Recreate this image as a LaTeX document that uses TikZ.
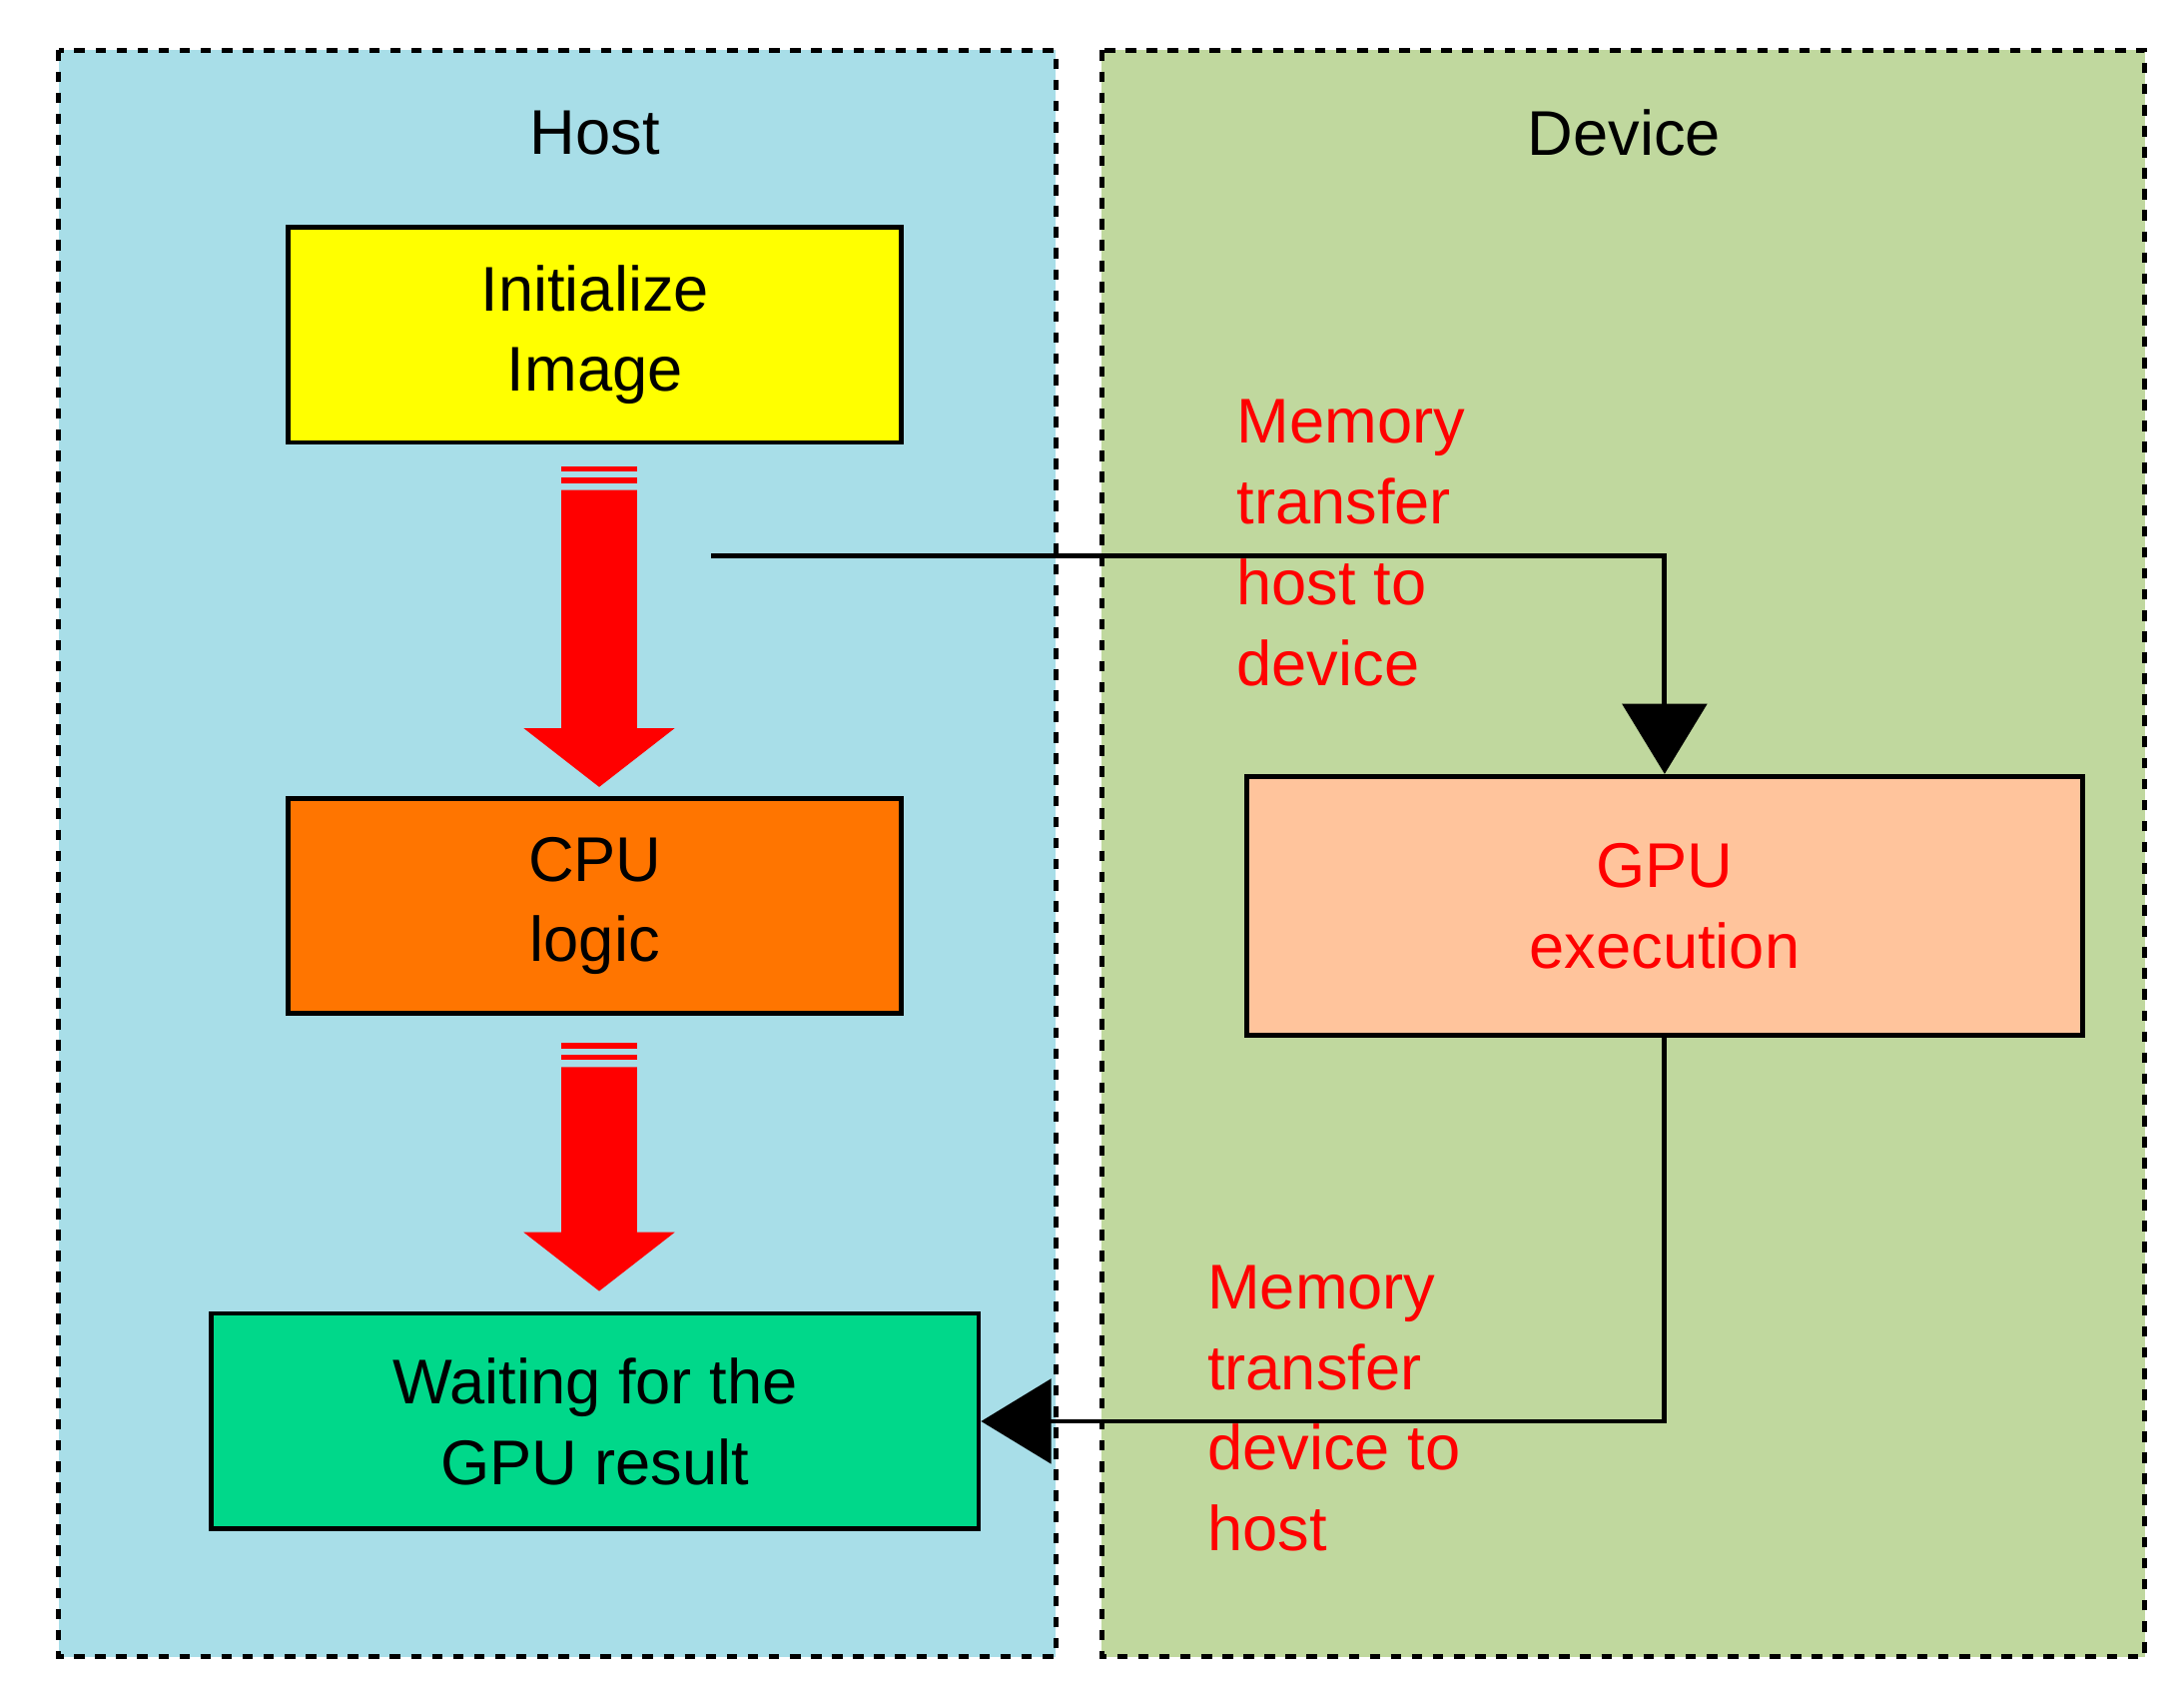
\documentclass[tikz,border=0pt]{standalone}
\usepackage{fontspec}
\setmainfont{Liberation Sans}
\usetikzlibrary{positioning,arrows.meta}
\definecolor{hostblue}{HTML}{A8DEE8}
\definecolor{devgreen}{HTML}{C0D89E}
\definecolor{inityellow}{HTML}{FFFF00}
\definecolor{cpuorange}{HTML}{FF7500}
\definecolor{waitgreen}{HTML}{00D88A}
\definecolor{gpupeach}{HTML}{FFC49C}
\tikzset{
    panel/.style={draw, dashed, line width=1.4pt},
    stage/.style={draw, line width=1.4pt, align=center, font=\fontsize{18}{23}\selectfont},
    memo/.style={text=red, align=left, anchor=north west, font=\fontsize{18}{23}\selectfont, inner sep=0pt},
    flow/.style={line width=1.4pt, -{Triangle[length=20pt,width=24pt]}}
}
\begin{document}
\begin{tikzpicture}[x=0.01402cm, y=-0.01402cm]
    \useasboundingbox (0,0) rectangle (1560,1203);

    % Panels
    \filldraw[panel, fill=hostblue] (42,36) rectangle (754,1183);
    \filldraw[panel, fill=devgreen] (787,36) rectangle (1532,1183);
    \node[font=\fontsize{18}{23}\selectfont] (host) at (425,95) {Host};
    \node[font=\fontsize{18}{23}\selectfont] (device) at (1160,95) {Device};

    % Steps
    \node[stage, fill=inityellow, minimum width=438*0.01402cm, minimum height=154*0.01402cm] (init) at (425,239) {Initialize\\Image};
    \node[stage, fill=cpuorange, minimum width=438*0.01402cm, minimum height=153*0.01402cm] (cpu) at (425,647) {CPU\\logic};
    \node[stage, fill=waitgreen, minimum width=548*0.01402cm, minimum height=154*0.01402cm] (wait) at (425,1015) {Waiting for the\\GPU result};
    \node[stage, fill=gpupeach, text=red, minimum width=597*0.01402cm, minimum height=185*0.01402cm] (gpu) at (1189,647) {GPU\\execution};

    % Red arrows
    \foreach \y/\t in {333/562, 745/922} {
        \fill[red] (401,\y) rectangle (455,\y+4);
        \fill[red] (401,\y+8) rectangle (455,\y+12);
        \fill[red] (401,\y+17) -- (455,\y+17) -- (455,\t-42) -- (482,\t-42)
            -- (428,\t) -- (374,\t-42) -- (401,\t-42) -- cycle;
    }

    % Memory transfers
    \coordinate (start) at (508,397);
    \draw[flow] (start) -| (gpu.north);
    \draw[flow] (gpu.south) |- (wait.east);
    \node[memo] (todev) at (883,285) {Memory\\transfer\\host to\\device};
    \node[memo] (tohost) at (862,903) {Memory\\transfer\\device to\\host};
\end{tikzpicture}
\end{document}
